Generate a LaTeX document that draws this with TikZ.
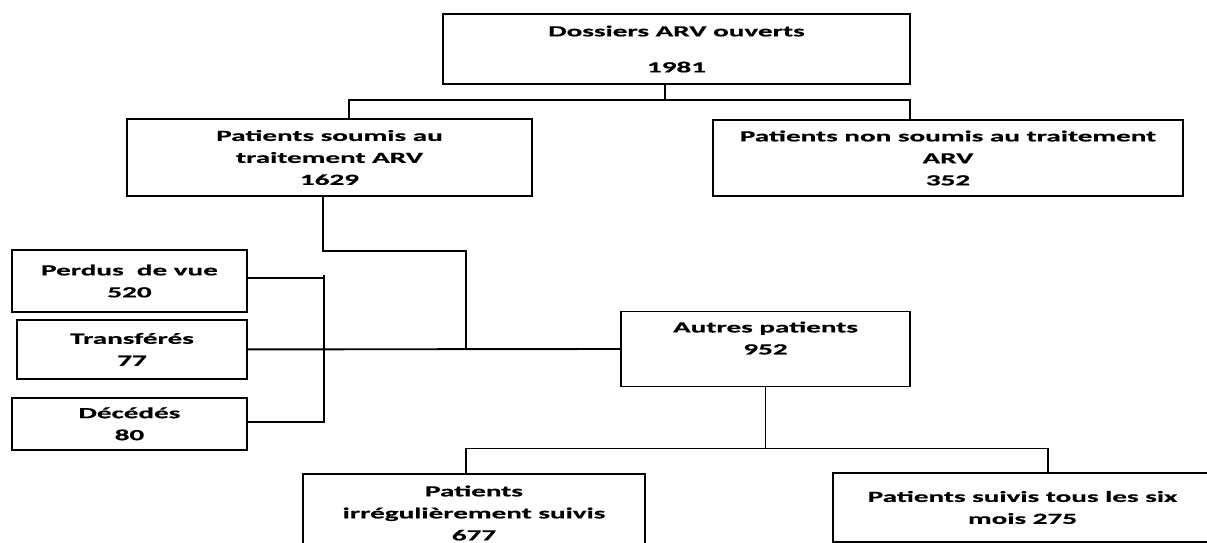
\documentclass[tikz,border=0pt]{standalone}
\usepackage{fontspec}
\setmainfont{Carlito}[FakeStretch=1.88, FakeBold=0.6]
\usetikzlibrary{positioning}
\tikzset{
  flowbox/.style={rectangle, draw=black, line width=1.9pt, inner sep=2pt, align=center, font=\fontsize{15.5}{22}\selectfont\bfseries},
  link/.style={draw=black, line width=1.9pt}
}

\begin{document}
\begin{tikzpicture}[x=1pt, y=-1pt]
  \useasboundingbox (0,0) rectangle (1207,543);

  \node[flowbox, minimum width=467pt, minimum height=70pt] (dossiers) at (676.5,49) {Dossiers ARV ouverts\\[14pt]1981};
  \node[flowbox, minimum width=405pt, minimum height=77pt] (soumis) at (329.5,157.5) {Patients soumis au\\traitement ARV\\1629};
  \node[flowbox, minimum width=470pt, minimum height=76pt] (nonsoumis) at (948,158) {Patients non soumis au traitement\\ARV\\352};

  \node[flowbox, minimum width=235pt, minimum height=62pt] (perdus) at (129.5,281) {Perdus~~de vue\\520};
  \node[flowbox, minimum width=230pt, minimum height=59pt, below=6pt of perdus, xshift=2.5pt] (transferes) {Transférés\\77};
  \node[flowbox, minimum width=235pt, minimum height=52pt, below=17pt of transferes, xshift=-2.5pt] (decedes) {Décédés\\80};

  \node[flowbox, minimum width=289pt, minimum height=75pt] (autres) at (765.5,349) {Autres patients\\952\\\mbox{}};

  \node[flowbox, minimum width=342pt, minimum height=78pt] (irreg) at (474,513) {Patients\\irrégulièrement suivis\\677};
  \node[flowbox, minimum width=379pt, minimum height=69pt] (suivis) at (1022.5,507.5) {Patients suivis tous les six\\mois 275};

  \coordinate (jct) at (466,349);

  % top fork
  \draw[link] ([xshift=-11.5pt]dossiers.south) -- ++(0,15) coordinate (fork1);
  \draw[link] ([xshift=19.5pt]soumis.north) |- (fork1) -| ([xshift=-38pt]nonsoumis.north);

  % treated patients
  \draw[link] ([xshift=-6.5pt]soumis.south) |- ++(143,54) -- (jct);
  \draw[link] (transferes.east) -- (autres.west);
  \draw[link] ([yshift=3pt]perdus.east) -- ++(76,0);
  \draw[link] ([xshift=76pt,yshift=6pt]perdus.east) |- ([yshift=2pt]decedes.east);

  % bottom fork
  \draw[link] (autres.south) -- ++(0,61) coordinate (fork2);
  \draw[link] ([xshift=-8pt]irreg.north) |- (fork2) -| ([xshift=25.5pt]suivis.north);
\end{tikzpicture}
\end{document}
